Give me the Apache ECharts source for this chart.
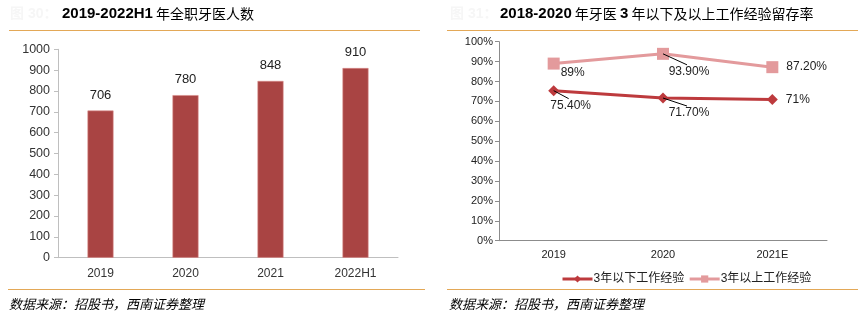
<!DOCTYPE html>
<html><head><meta charset="utf-8">
<script src="https://cdn.jsdelivr.net/npm/echarts@6/dist/echarts.min.js"></script>
<style>html,body{margin:0;padding:0;background:#fff}#c{width:866px;height:322px}</style>
</head><body><div id="c"></div>
<script>
const barCategories = ['2019', '2020', '2021', '2022H1'];
const dentistCounts = [706, 780, 848, 910];
const barTicks = [0, 1000, 100];

const lineCategories = ['2019', '2020', '2021E'];
const under3Years = [75.4, 71.7, 71.0];
const over3Years = [89.0, 93.9, 87.2];
const under3Labels = ['75.40%', '71.70%', '71%'];
const over3Labels = ['89%', '93.90%', '87.20%'];
const seriesNames = ['3年以下工作经验', '3年以上工作经验'];

const titleLeftNum = '2019-2022H1';
const titleLeftText = ' 年全职牙医人数';
const titleRightParts = [['2018-2020', 'b'], [' 年牙医 ', 'r'], ['3', 'b'], [' 年以下及以上工作经验留存率', 'r']];
const sourceText = '数据来源：招股书，西南证券整理';

const FONT = '"Liberation Sans", Arial, "Noto Sans CJK SC", sans-serif';
const chart = echarts.init(document.getElementById('c'));

const labelOffsets = { under: [[17, 15], [26, 15], null], over: [[19, 9], [26, 18], null] };
const leaderShow = { under: [true, true, false], over: [false, true, false] };
const colUnder = '#bd3a3d', colOver = '#e39a9c';

function lineLabelData(values, labels, offs) {
  return values.map((v, i) => ({
    value: v,
    label: offs[i] ? { position: 'inside', offset: offs[i] } : { position: 'right', distance: 8 },
    labelFmt: labels[i]
  }));
}

const titleRich = {
  b: { fontFamily: FONT, fontWeight: 'bold', fontSize: 15, color: '#000' },
  r: { fontFamily: '"Noto Sans CJK SC", sans-serif', fontWeight: 'normal', fontSize: 14, color: '#000' }
};

chart.setOption({
  animation: false,
  textStyle: { fontFamily: FONT },
  grid: [
    { left: 58, right: 468, top: 49.3, bottom: 64.3 },
    { left: 499, right: 39, top: 41.7, bottom: 81.3 }
  ],
  xAxis: [
    { gridIndex: 0, type: 'category', data: barCategories,
      axisLine: { lineStyle: { color: '#bfbfbf' } }, axisTick: { show: false },
      axisLabel: { color: '#333', fontSize: 12, margin: 10, fontFamily: FONT } },
    { gridIndex: 1, type: 'category', data: lineCategories,
      axisLine: { lineStyle: { color: '#8c8c8c' } }, axisTick: { show: false },
      axisLabel: { color: '#222', fontSize: 11, margin: 9, fontFamily: FONT } }
  ],
  yAxis: [
    { gridIndex: 0, type: 'value', min: barTicks[0], max: barTicks[1], interval: barTicks[2],
      axisLine: { show: true, lineStyle: { color: '#bfbfbf' } },
      axisTick: { show: true, length: 4, lineStyle: { color: '#bfbfbf' } },
      splitLine: { show: false },
      axisLabel: { color: '#333', fontSize: 12.5, margin: 8, fontFamily: FONT, formatter: v => String(v) } },
    { gridIndex: 1, type: 'value', min: 0, max: 100, interval: 10,
      axisLine: { show: true, lineStyle: { color: '#8c8c8c' } },
      axisTick: { show: true, length: 4, lineStyle: { color: '#8c8c8c' } },
      splitLine: { show: false },
      axisLabel: { color: '#222', fontSize: 11, margin: 6, formatter: '{value}%', fontFamily: FONT } }
  ],
  legend: {
    data: [
      { name: seriesNames[0], lineStyle: { width: 3, color: colUnder } },
      { name: seriesNames[1], lineStyle: { width: 3, color: colOver } }
    ],
    left: 556, top: 268, itemWidth: 30, itemHeight: 9, itemGap: 4,
    textStyle: { color: '#222', fontSize: 12, fontFamily: FONT, padding: [0, 0, 0, -4] }
  },
  series: [
    { type: 'bar', xAxisIndex: 0, yAxisIndex: 0, data: dentistCounts, barWidth: 26,
      itemStyle: { color: '#a94443', borderColor: '#d98a88', borderWidth: 0.6 },
      label: { show: true, position: 'top', distance: 9, color: '#222', fontSize: 13, fontFamily: FONT } },
    { type: 'line', name: seriesNames[0], xAxisIndex: 1, yAxisIndex: 1,
      data: lineLabelData(under3Years, under3Labels, labelOffsets.under),
      color: colUnder, symbol: 'diamond', symbolSize: 11,
      lineStyle: { width: 3, color: colUnder }, itemStyle: { color: colUnder },
      label: { show: true, color: '#222', fontSize: 12, fontFamily: FONT,
        formatter: p => p.data.labelFmt } },
    { type: 'line', name: seriesNames[1], xAxisIndex: 1, yAxisIndex: 1,
      data: lineLabelData(over3Years, over3Labels, labelOffsets.over),
      color: colOver, symbol: 'rect', symbolSize: 12,
      lineStyle: { width: 3, color: colOver }, itemStyle: { color: colOver },
      label: { show: true, color: '#222', fontSize: 12, fontFamily: FONT,
        formatter: p => p.data.labelFmt } }
  ]
});

function leader(values, offs, shows) {
  const g = [];
  values.forEach((v, i) => {
    if (!offs[i] || !shows[i]) return;
    const p = chart.convertToPixel({ gridIndex: 1 }, [i, v]);
    g.push({ type: 'line', silent: true, z: 10,
      shape: { x1: p[0], y1: p[1], x2: p[0] + offs[i][0] - 2, y2: p[1] + offs[i][1] - 7 },
      style: { stroke: '#000', lineWidth: 1 } });
  });
  return g;
}

const graphics = [
  { type: 'text', left: 10, top: 7, style: { text: '图 30：', fill: '#f6f6f6', font: 'bold 14px ' + FONT } },
  { type: 'text', left: 62, top: 6, style: { rich: titleRich, text: '{b|' + titleLeftNum + '}{r|' + titleLeftText + '}' } },
  { type: 'text', left: 450, top: 7, style: { text: '图 31：', fill: '#f6f6f6', font: 'bold 14px ' + FONT } },
  { type: 'text', left: 500, top: 6, style: { rich: titleRich, text: titleRightParts.map(p => '{' + p[1] + '|' + p[0] + '}').join('') } },
  { type: 'line', shape: { x1: 9, y1: 30.5, x2: 420, y2: 30.5 }, style: { stroke: '#e3a857', lineWidth: 1.2 } },
  { type: 'line', shape: { x1: 447, y1: 30.5, x2: 858, y2: 30.5 }, style: { stroke: '#e3a857', lineWidth: 1.2 } },
  { type: 'line', shape: { x1: 8, y1: 289.5, x2: 425, y2: 289.5 }, style: { stroke: '#e3a857', lineWidth: 1.2 } },
  { type: 'line', shape: { x1: 447, y1: 289.5, x2: 858, y2: 289.5 }, style: { stroke: '#e3a857', lineWidth: 1.2 } },
  { type: 'text', left: 9, top: 298, style: { text: sourceText, fill: '#000', font: 'italic 13px "Noto Sans CJK SC", sans-serif' } },
  { type: 'text', left: 449, top: 298, style: { text: sourceText, fill: '#000', font: 'italic 13px "Noto Sans CJK SC", sans-serif' } }
].concat(leader(under3Years, labelOffsets.under, leaderShow.under), leader(over3Years, labelOffsets.over, leaderShow.over));

chart.setOption({ graphic: graphics });
</script></body></html>
